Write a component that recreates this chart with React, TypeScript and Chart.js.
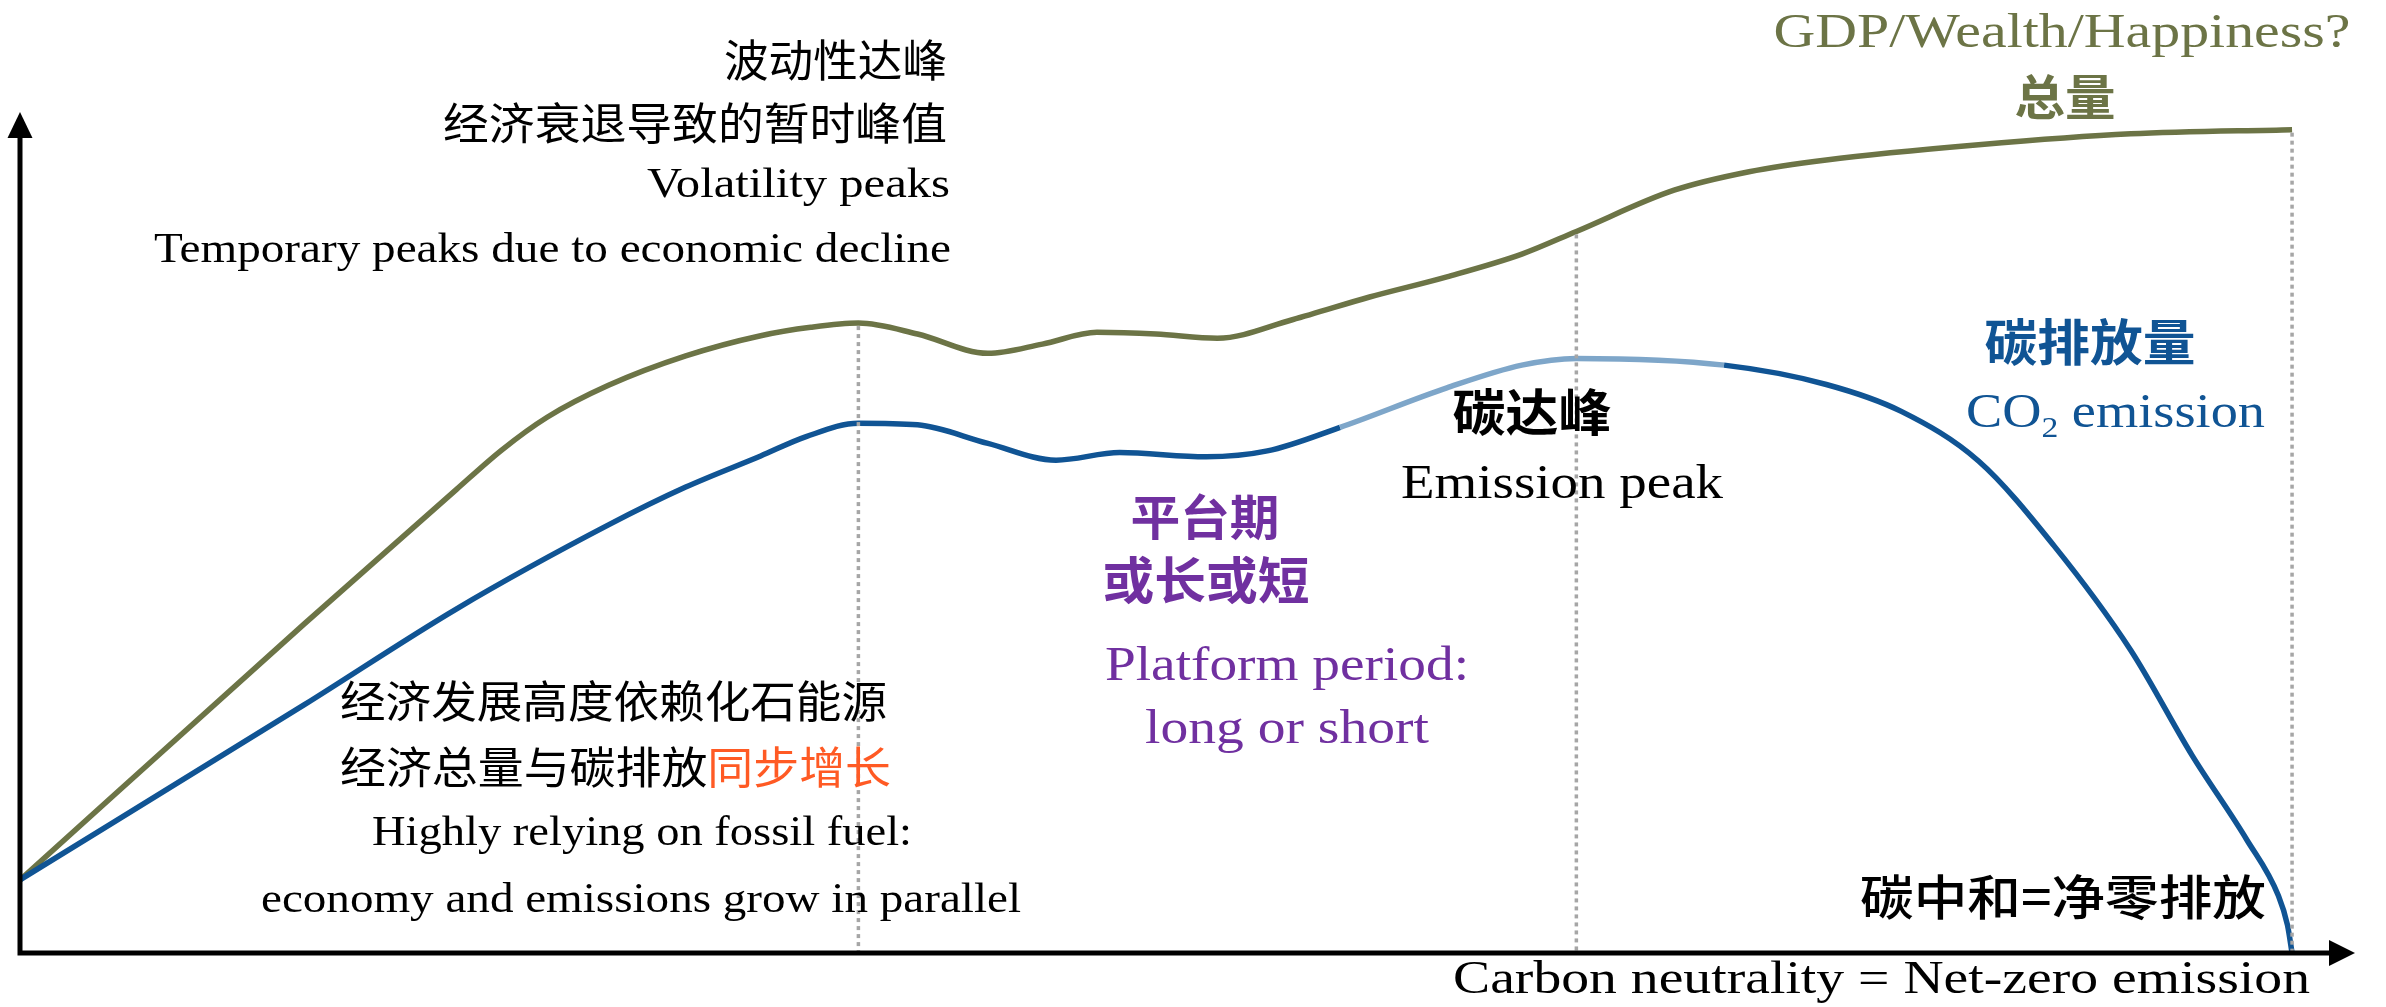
import React, { useEffect, useRef } from "react";
import { Chart, registerables } from "chart.js";

Chart.register(...registerables);

const W = 2386;
const H = 1007;

// Time axis in arbitrary units: 100 = carbon neutrality (net-zero).
// Values are relative amounts (0 = x-axis, 100 = top of y-axis).
const gdpX = [0, 12.5, 19.2, 21.2, 23.2, 25.9, 29.3, 32.6, 34.8, 36.9, 39.5, 42.6, 45.0, 47.4, 50.0, 52.7, 56.0, 59.4, 62.8, 66.1, 68.5, 72.8, 76.1, 79.5, 86.2, 92.9, 100];
const gdpY = [8.7, 39.1, 55.1, 59.8, 63.7, 67.5, 71.0, 73.4, 74.4, 74.9, 73.6, 71.3, 72.4, 73.8, 73.6, 73.1, 75.3, 78.0, 80.4, 83.1, 85.8, 90.7, 92.9, 94.3, 96.1, 97.4, 97.9];

const co2X = [0, 12.5, 19.2, 25.9, 29.3, 32.6, 34.6, 36.9, 39.5, 42.6, 45.6, 48.4, 52.2, 54.9, 58.1, 62.8, 66.1, 68.5, 75.0, 79.5, 82.8, 86.2, 89.5, 92.9, 95.6, 98.0, 99.4, 99.8, 100];
const co2Y = [8.7, 29.5, 40.9, 50.9, 55.4, 59.1, 61.4, 63.0, 62.8, 60.6, 58.6, 59.5, 59.0, 59.7, 62.5, 67.2, 69.9, 70.7, 69.9, 67.6, 64.4, 58.5, 48.5, 36.0, 23.5, 13.5, 6.8, 3.3, 0];

// Phase markers (same x units)
const guideX = [36.9, 68.5, 100];
const peakPhase = [58.1, 75.0];

const X_MAX = 102.77;
const Y_MAX = 100;

const OLIVE = "#6C7446";
const BLUE = "#105494";
const LIGHT_BLUE = "#7EA6C9";
const PURPLE = "#7030A0";
const ORANGE = "#FF5A24";
const GREY = "#A6A6A6";

const SERIF = "'Liberation Serif', 'Times New Roman', serif";
const CJK = "'Noto Sans CJK SC', 'Noto Sans CJK JP', sans-serif";

type Run = { t: string; color?: string; sub?: boolean };
type Label = {
  runs: Run[];
  x: number;
  y: number; // baseline for latin, visual centre for CJK
  align: "left" | "right" | "center";
  size: number;
  width: number;
  family: string;
  weight: number;
  color: string;
  cjk?: boolean;
};

const labels: Label[] = [
  { runs: [{ t: "波动性达峰" }], x: 947, y: 60, align: "right", size: 44, width: 223, family: CJK, weight: 400, color: "#000", cjk: true },
  { runs: [{ t: "经济衰退导致的暂时峰值" }], x: 947, y: 123, align: "right", size: 44, width: 504, family: CJK, weight: 400, color: "#000", cjk: true },
  { runs: [{ t: "Volatility peaks" }], x: 950, y: 197, align: "right", size: 43, width: 303, family: SERIF, weight: 400, color: "#000" },
  { runs: [{ t: "Temporary peaks due to economic decline" }], x: 951, y: 262, align: "right", size: 43, width: 797, family: SERIF, weight: 400, color: "#000" },
  { runs: [{ t: "GDP/Wealth/Happiness?" }], x: 2062, y: 47, align: "center", size: 48, width: 577, family: SERIF, weight: 400, color: OLIVE },
  { runs: [{ t: "总量" }], x: 2065, y: 97, align: "center", size: 48, width: 101, family: CJK, weight: 700, color: OLIVE, cjk: true },
  { runs: [{ t: "碳排放量" }], x: 2090, y: 342, align: "center", size: 50, width: 211, family: CJK, weight: 700, color: BLUE, cjk: true },
  { runs: [{ t: "CO" }, { t: "2", sub: true }, { t: " emission" }], x: 1966, y: 427, align: "left", size: 48, width: 299, family: SERIF, weight: 400, color: BLUE },
  { runs: [{ t: "碳达峰" }], x: 1532, y: 412, align: "center", size: 50, width: 159, family: CJK, weight: 700, color: "#000", cjk: true },
  { runs: [{ t: "Emission peak" }], x: 1401, y: 498, align: "left", size: 48, width: 322, family: SERIF, weight: 400, color: "#000" },
  { runs: [{ t: "平台期" }], x: 1205, y: 517, align: "center", size: 48, width: 149, family: CJK, weight: 700, color: PURPLE, cjk: true },
  { runs: [{ t: "或长或短" }], x: 1206, y: 580, align: "center", size: 50, width: 207, family: CJK, weight: 700, color: PURPLE, cjk: true },
  { runs: [{ t: "Platform period:" }], x: 1105, y: 680, align: "left", size: 48, width: 364, family: SERIF, weight: 400, color: PURPLE },
  { runs: [{ t: "long or short" }], x: 1145, y: 743, align: "left", size: 48, width: 284, family: SERIF, weight: 400, color: PURPLE },
  { runs: [{ t: "经济发展高度依赖化石能源" }], x: 340, y: 701, align: "left", size: 44, width: 547, family: CJK, weight: 400, color: "#000", cjk: true },
  { runs: [{ t: "经济总量与碳排放" }, { t: "同步增长", color: ORANGE }], x: 340, y: 767, align: "left", size: 44, width: 551, family: CJK, weight: 400, color: "#000", cjk: true },
  { runs: [{ t: "Highly relying on fossil fuel:" }], x: 372, y: 845, align: "left", size: 43, width: 540, family: SERIF, weight: 400, color: "#000" },
  { runs: [{ t: "economy and emissions grow in parallel" }], x: 261, y: 912, align: "left", size: 43, width: 760, family: SERIF, weight: 400, color: "#000" },
  { runs: [{ t: "碳中和=净零排放" }], x: 1860, y: 897, align: "left", size: 48, width: 406, family: CJK, weight: 500, color: "#000", cjk: true },
  { runs: [{ t: "Carbon neutrality = Net-zero emission" }], x: 1453, y: 993, align: "left", size: 46, width: 857, family: SERIF, weight: 400, color: "#000" },
];

function fontFor(l: Label, r: Run) {
  const s = r.sub ? l.size * 0.62 : l.size;
  return `${l.weight} ${s}px ${l.family}`;
}

function drawLabel(ctx: CanvasRenderingContext2D, l: Label) {
  ctx.save();
  let total = 0;
  const widths = l.runs.map((r) => {
    ctx.font = fontFor(l, r);
    const w = ctx.measureText(r.t).width;
    total += w;
    return w;
  });
  const sx = l.width / total;
  const drawn = total * sx;
  const left = l.align === "left" ? l.x : l.align === "right" ? l.x - drawn : l.x - drawn / 2;
  const baseY = l.cjk ? l.y + 0.38 * l.size : l.y;
  ctx.translate(left, baseY);
  ctx.scale(sx, 1);
  ctx.textAlign = "left";
  ctx.textBaseline = "alphabetic";
  let cx = 0;
  l.runs.forEach((r, i) => {
    ctx.font = fontFor(l, r);
    ctx.fillStyle = r.color || l.color;
    ctx.fillText(r.t, cx, r.sub ? l.size * 0.2 : 0);
    cx += widths[i];
  });
  ctx.restore();
}

const decorPlugin = {
  id: "decor",
  afterDatasetsDraw(chart: any) {
    const ctx: CanvasRenderingContext2D = chart.ctx;
    const xs = chart.scales.x;
    const ys = chart.scales.y;
    const left = xs.getPixelForValue(0);
    const right = chart.chartArea.right;
    const top = chart.chartArea.top;
    const bottom = ys.getPixelForValue(0);

    // dotted guide lines
    ctx.save();
    ctx.strokeStyle = GREY;
    ctx.lineWidth = 3.5;
    ctx.setLineDash([4, 4]);
    guideX.forEach((gx) => {
      const idx = gdpX.indexOf(gx);
      const yTop = ys.getPixelForValue(gdpY[idx]) + 3;
      const px = xs.getPixelForValue(gx);
      ctx.beginPath();
      ctx.moveTo(px, yTop);
      ctx.lineTo(px, bottom - 2);
      ctx.stroke();
    });
    ctx.restore();

    // axes with arrows
    ctx.save();
    ctx.strokeStyle = "#000";
    ctx.fillStyle = "#000";
    ctx.lineWidth = 5;
    ctx.beginPath();
    ctx.moveTo(left, bottom + 2.5);
    ctx.lineTo(left, top + 24);
    ctx.moveTo(left - 2.5, bottom);
    ctx.lineTo(right - 24, bottom);
    ctx.stroke();
    ctx.beginPath();
    ctx.moveTo(left, top);
    ctx.lineTo(left - 12.5, top + 26);
    ctx.lineTo(left + 12.5, top + 26);
    ctx.closePath();
    ctx.fill();
    ctx.beginPath();
    ctx.moveTo(right, bottom);
    ctx.lineTo(right - 26, bottom - 13);
    ctx.lineTo(right - 26, bottom + 13);
    ctx.closePath();
    ctx.fill();
    ctx.restore();

    labels.forEach((l) => drawLabel(ctx, l));
  },
};

export default function App() {
  const ref = useRef<HTMLCanvasElement>(null);
  useEffect(() => {
    const canvas = ref.current;
    if (!canvas) return;
    const chart = new Chart(canvas, {
      type: "line",
      data: {
        datasets: [
          {
            label: "CO2 emission",
            data: co2X.map((x, i) => ({ x, y: co2Y[i] })),
            borderColor: BLUE,
            borderWidth: 5.5,
            pointRadius: 0,
            cubicInterpolationMode: "monotone",
            fill: false,
            segment: {
              borderColor: (c: any) =>
                c.p0.parsed.x >= peakPhase[0] - 1e-6 && c.p1.parsed.x <= peakPhase[1] + 1e-6 ? LIGHT_BLUE : BLUE,
            },
          },
          {
            label: "GDP/Wealth/Happiness",
            data: gdpX.map((x, i) => ({ x, y: gdpY[i] })),
            borderColor: OLIVE,
            borderWidth: 5.5,
            pointRadius: 0,
            cubicInterpolationMode: "monotone",
            fill: false,
          },
        ],
      },
      options: {
        animation: false,
        responsive: false,
        devicePixelRatio: 1,
        events: [],
        layout: { padding: { left: 20, top: 112, right: 31, bottom: 54 } },
        scales: {
          x: { type: "linear", min: 0, max: X_MAX, display: false },
          y: { type: "linear", min: 0, max: Y_MAX, display: false },
        },
        plugins: { legend: { display: false }, tooltip: { enabled: false }, title: { display: false } },
      } as any,
      plugins: [decorPlugin],
    });
    return () => chart.destroy();
  }, []);
  return (
    <div style={{ position: "absolute", left: 0, top: 0, width: W, height: H, background: "#fff" }}>
      <canvas ref={ref} width={W} height={H} style={{ display: "block", width: W, height: H }} />
    </div>
  );
}
